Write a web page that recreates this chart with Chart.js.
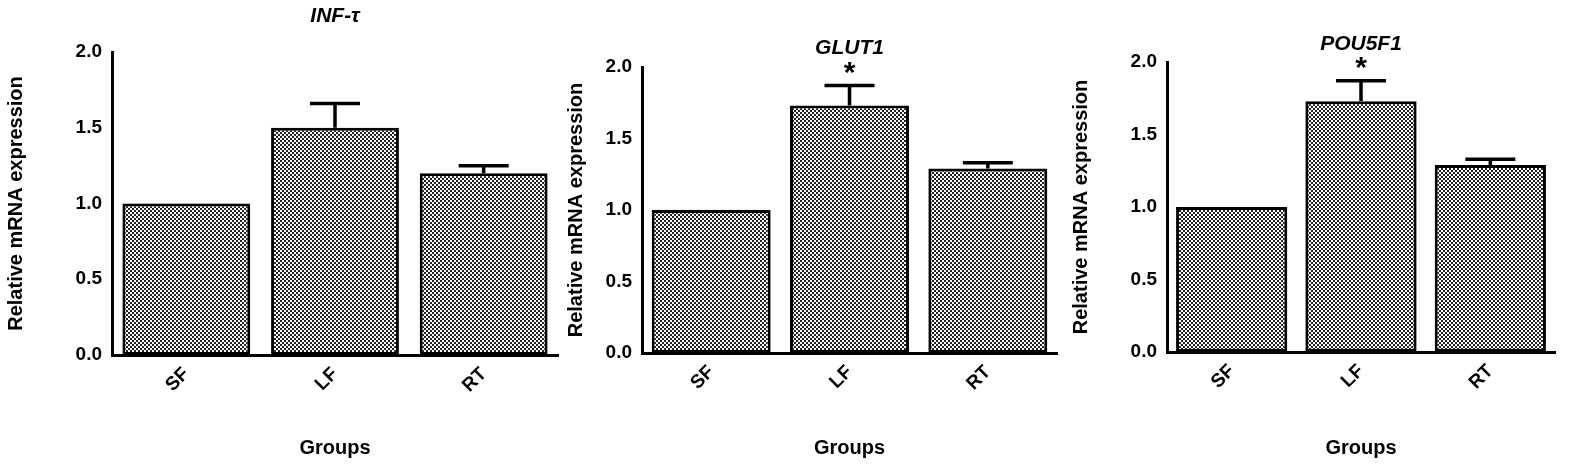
<!DOCTYPE html><html><head><meta charset="utf-8">
<script src="https://cdn.jsdelivr.net/npm/chart.js@4"></script>
<style>body{margin:0;background:#fff;width:1580px;height:464px;position:relative;overflow:hidden}canvas{position:absolute;top:0}</style>
</head><body>
<canvas id="c1" style="left:0" width="560" height="464"></canvas>
<canvas id="c2" style="left:560px" width="505" height="464"></canvas>
<canvas id="c3" style="left:1065px" width="515" height="464"></canvas>
<script>
const categories=["SF","LF","RT"];
const titles=["INF-\u03c4","GLUT1","POU5F1"];
const infValues=[1.0,1.5,1.2], infErr=[0,0.16,0.05], infStar=[false,false,false];
const glutValues=[1.0,1.73,1.29], glutErr=[0,0.14,0.04], glutStar=[false,true,false];
const pouValues=[1.0,1.73,1.29], pouErr=[0,0.14,0.04], pouStar=[false,true,false];
const yTicks=[0,0.5,1.0,1.5,2.0];
const F='Liberation Sans, Arial';
function pattern(){const p=document.createElement('canvas');p.width=4;p.height=4;const g=p.getContext('2d');g.fillStyle='#fff';g.fillRect(0,0,4,4);g.fillStyle='#222';g.fillRect(0,0,2,2);g.fillRect(2,2,2,2);return document.createElement('canvas').getContext('2d').createPattern(p,'repeat');}
const errPlugin={id:'err',afterDatasetsDraw(ch,a,o){const c=ch.ctx,y=ch.scales.y,m=ch.getDatasetMeta(0);c.save();c.strokeStyle='#000';c.lineWidth=3.5;c.fillStyle='#000';
 m.data.forEach((b,i)=>{const e=o.err[i];if(e>0){const t=y.getPixelForValue(o.vals[i]),tt=y.getPixelForValue(o.vals[i]+e);c.beginPath();c.moveTo(b.x,t);c.lineTo(b.x,tt);c.moveTo(b.x-25,tt);c.lineTo(b.x+25,tt);c.stroke();}
 if(o.star[i]){c.font='bold 30px '+F;c.textAlign='center';c.fillText('*',b.x,y.getPixelForValue(o.vals[i]+o.err[i])-4);}});
 c.font='italic bold 21px '+F;c.textAlign='center';c.fillText(o.title,(ch.chartArea.left+ch.chartArea.right)/2,o.ty);c.restore();}};
function make(id,vals,err,star,title,cfg){
 new Chart(document.getElementById(id),{type:'bar',data:{labels:categories,datasets:[{data:vals,backgroundColor:pattern(),borderColor:'#000',borderWidth:3,borderSkipped:false,barPercentage:0.86,categoryPercentage:1}]},
 options:{responsive:false,animation:false,layout:{padding:{top:cfg.top,right:cfg.right,bottom:0}},plugins:{legend:{display:false},tooltip:{enabled:false},err:{vals,err,star,title,ty:cfg.ty}},
 scales:{x:{grid:{display:false,drawTicks:false},border:{color:'#000',width:3},ticks:{color:'#000',font:{size:19,weight:'bold',family:F},minRotation:45,maxRotation:45,padding:8},title:{display:true,text:'Groups',color:'#000',font:{size:20,weight:'bold',family:F}},afterFit(s){s.height=cfg.xh;}},
 y:{min:0,max:2,afterBuildTicks(s){s.ticks=yTicks.map(v=>({value:v}));},grid:{display:false,drawTicks:true,tickLength:7,tickColor:'#000',tickWidth:3},border:{color:'#000',width:3},ticks:{color:'#000',font:{size:19,weight:'bold',family:F},callback:v=>v.toFixed(1)},title:{display:true,text:'Relative mRNA expression',color:'#000',font:{size:20,weight:'bold',family:F}},afterFit(s){s.width=cfg.yw;}}}},plugins:[errPlugin]});}
make('c1',infValues,infErr,infStar,titles[0],{top:52,right:2,xh:109,yw:112,ty:22});
make('c2',glutValues,glutErr,glutStar,titles[1],{top:67,right:8,xh:111,yw:82,ty:54});
make('c3',pouValues,pouErr,pouStar,titles[2],{top:62,right:25,xh:112,yw:102,ty:50});
</script></body></html>
